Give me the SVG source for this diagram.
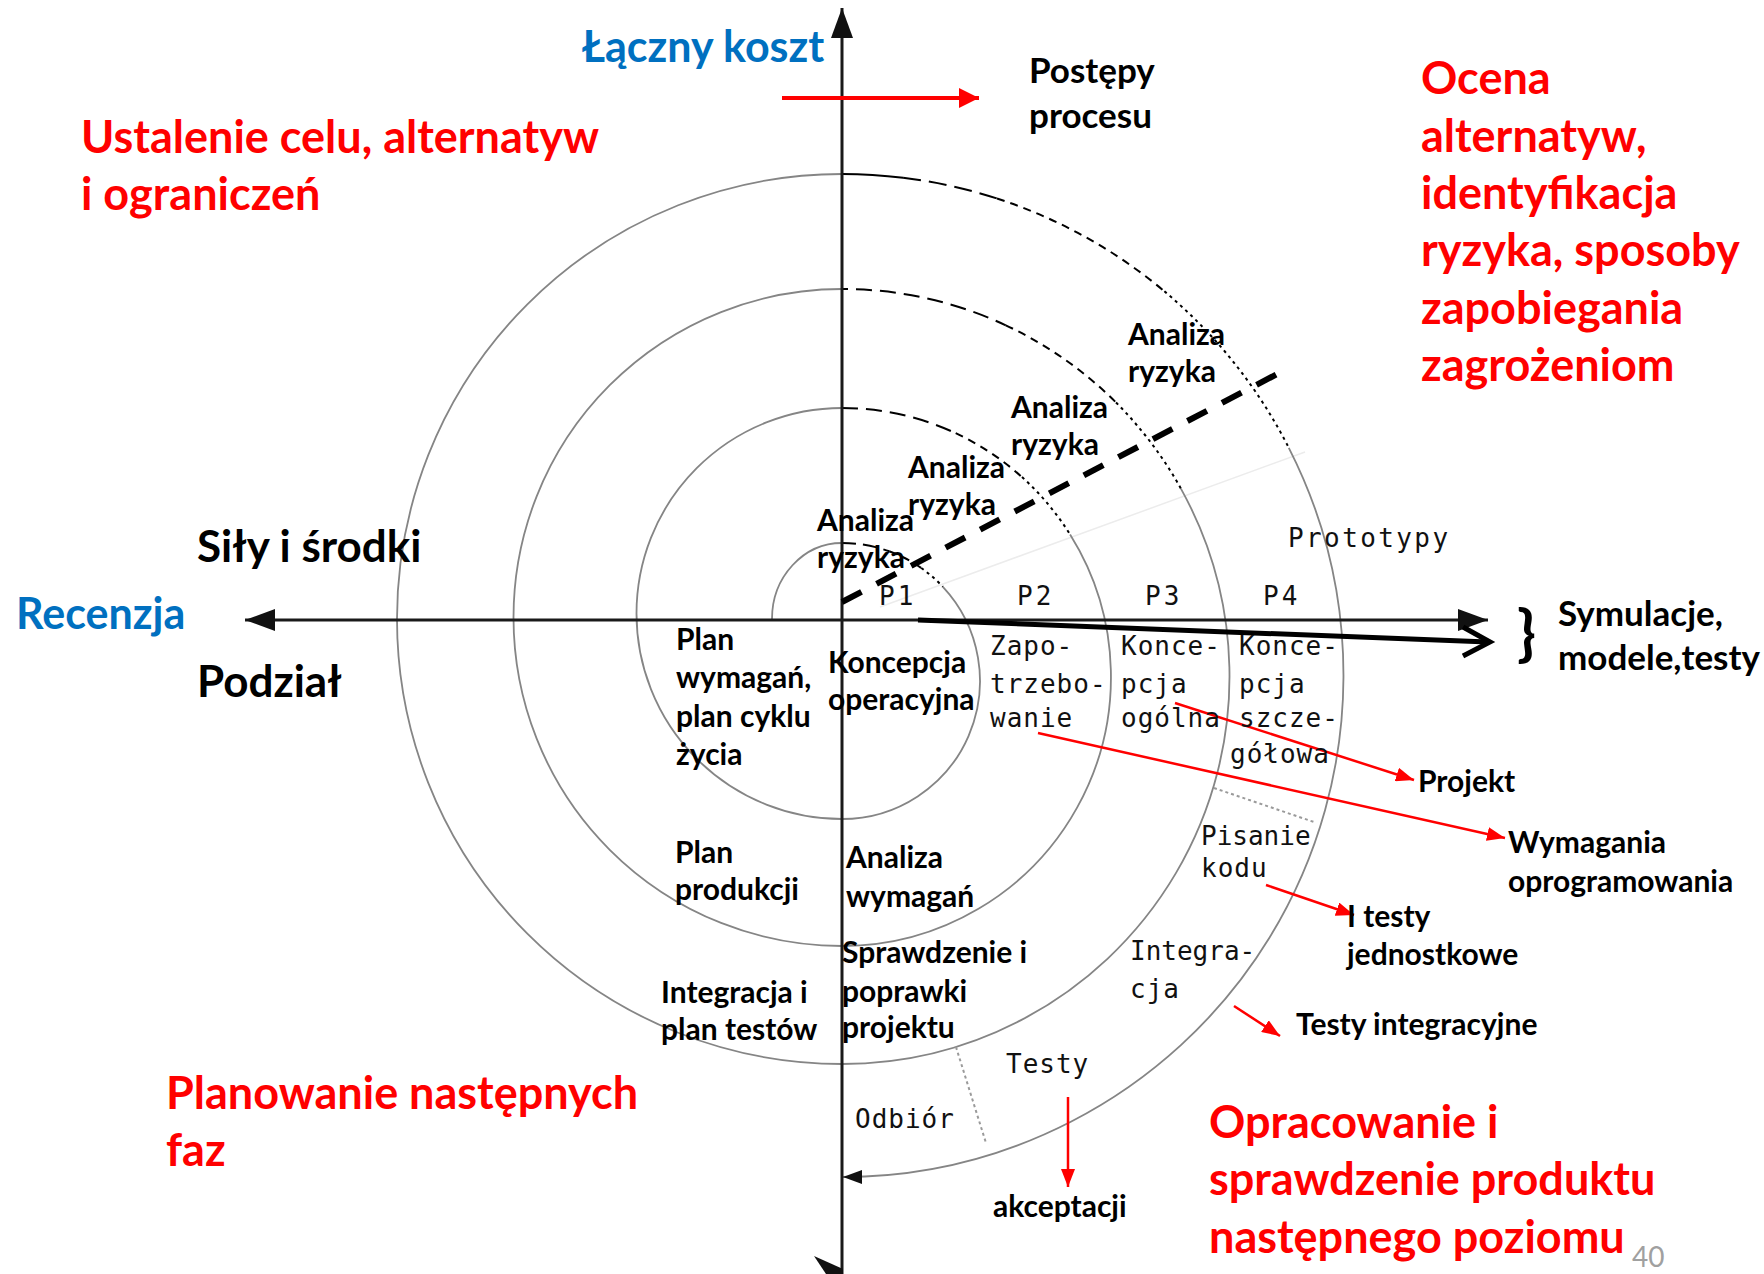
<svg xmlns="http://www.w3.org/2000/svg" width="1764" height="1274" viewBox="0 0 1764 1274">
  <style>
    .b { font-family: Lato, "Open Sans", "DejaVu Sans", sans-serif; font-weight: 700; fill: #000; }
    .m { font-size: 30px; }
    .l { font-size: 35px; }
    .xl { font-size: 44px; }
    .red { fill: #ff0000; font-size: 45px; }
    .blue { fill: #0070c0; font-size: 43px; }
    .mono { font-family: "DejaVu Sans Mono", "Liberation Mono", monospace; font-size: 26px; letter-spacing: 1px; fill: #111; }
    .gray { fill: none; stroke: #858585; stroke-width: 1.8; }
    .blk { fill: none; stroke: #000; stroke-width: 2; }
    .d1 { stroke-dasharray: 16 8; }
    .d2 { stroke-dasharray: 8 6; }
    .dt { stroke-dasharray: 3 4; }
    .axis { fill: none; stroke: #1a1a1a; stroke-width: 3; }
    .rarrow { fill: none; stroke: #ff0000; stroke-width: 2.5; }
    .sep { fill: none; stroke: #9a9a9a; stroke-width: 2; stroke-dasharray: 3 3; }
  </style>
  <defs>
    <marker id="axisHead" markerUnits="userSpaceOnUse" markerWidth="30" markerHeight="22" refX="30" refY="11" orient="auto-start-reverse">
      <path d="M0,0 L30,11 L0,22 z" fill="#111"/>
    </marker>
    <marker id="redHead" markerUnits="userSpaceOnUse" markerWidth="18" markerHeight="14" refX="18" refY="7" orient="auto">
      <path d="M0,0 L18,7 L0,14 z" fill="#ff0000"/>
    </marker>
    <marker id="redBig" markerUnits="userSpaceOnUse" markerWidth="20" markerHeight="20" refX="20" refY="10" orient="auto">
      <path d="M0,0 L20,10 L0,20 z" fill="#ff0000"/>
    </marker>
  </defs>

  <rect width="1764" height="1274" fill="#fff"/>

  <!-- spiral: semicircle arcs around the axes -->
  <g id="spiral">
    <path d="M880 607 L1305 452" fill="none" stroke="#ececec" stroke-width="1.5"/>
    <!-- left halves (planning / objectives quadrants) -->
    <path class="gray" d="M772 619 A70 76 0 0 1 842 543"/>
    <path class="gray" d="M842 819 A205.5 205.5 0 0 1 842 408"/>
    <path class="gray" d="M842 946 A328.5 328.5 0 0 1 842 289"/>
    <path class="gray" d="M842 1064 A445 445 0 0 1 842 174"/>
    <!-- loop 1 right half -->
    <path class="blk" d="M842 543 A138 138 0 0 1 889.2 551.3" style="stroke-dasharray:14 7"/>
    <path class="blk d2" d="M889.2 551.3 A138 138 0 0 1 921.2 568"/>
    <path class="blk dt" d="M921.2 568 A138 138 0 0 1 942.9 586.9"/>
    <path class="gray" d="M942.9 586.9 A138 138 0 0 1 842 819"/>
    <!-- loop 2 right half -->
    <path class="blk d1" d="M842 408 A269 269 0 0 1 955.7 433.2"/>
    <path class="blk d2" d="M955.7 433.2 A269 269 0 0 1 1022 477.1"/>
    <path class="blk dt" d="M1022 477.1 A269 269 0 0 1 1070.1 534.5"/>
    <path class="gray" d="M1070.1 534.5 A269 269 0 0 1 842 946"/>
    <!-- loop 3 right half -->
    <path class="blk d1" d="M842 289 A387.5 387.5 0 0 1 1005.8 325.3" style="stroke-dashoffset:-14"/>
    <path class="blk d2" d="M1005.8 325.3 A387.5 387.5 0 0 1 1116 402.5"/>
    <path class="blk dt" d="M1116 402.5 A387.5 387.5 0 0 1 1180.9 488.6"/>
    <path class="gray" d="M1180.9 488.6 A387.5 387.5 0 0 1 842 1064"/>
    <!-- loop 4 right half -->
    <path class="blk" d="M842 174 A501.5 501.5 0 0 1 903.1 177.8"/>
    <path class="blk" d="M903.1 177.8 A501.5 501.5 0 0 1 997 198.5" style="stroke-dasharray:18 8"/>
    <path class="blk d2" d="M997 198.5 A501.5 501.5 0 0 1 1164.4 291.3"/>
    <path class="blk dt" d="M1164.4 291.3 A501.5 501.5 0 0 1 1288.8 447.8"/>
    <path class="gray" d="M1288.8 447.8 A501.5 501.5 0 0 1 842 1177"/>
    <polygon points="843,1177 862,1170 862,1184" fill="#111"/>
    <!-- phase separators -->
    <path class="sep" d="M1214 788 L1314 822"/>
    <path class="sep" d="M956 1047 L986 1143"/>
  </g>

  <g id="connectors">
    <!-- axes -->
    <path class="axis" d="M245 620 L1488 620" marker-start="url(#axisHead)" marker-end="url(#axisHead)"/>
    <path class="axis" d="M842 1274 L842 8" marker-end="url(#axisHead)"/>
    <polygon points="814,1256 843,1269 843,1274 826,1274" fill="#111"/>
    <!-- risk analysis boundary -->
    <path d="M842 602 L1281 372" fill="none" stroke="#000" stroke-width="6" stroke-dasharray="22 17"/>
    <!-- prototype progression -->
    <path d="M918 620 L1488 642" fill="none" stroke="#000" stroke-width="5"/>
    <path d="M1463 627 L1490 642 L1463 656" fill="none" stroke="#000" stroke-width="5"/>
    <!-- red pointers -->
    <path class="rarrow" d="M782 98 L979 98" style="stroke-width:4" marker-end="url(#redBig)"/>
    <path class="rarrow" d="M1038 733 L1505 838" marker-end="url(#redHead)"/>
    <path class="rarrow" d="M1175 703 L1414 780" marker-end="url(#redHead)"/>
    <path class="rarrow" d="M1266 885 L1354 915" marker-end="url(#redHead)"/>
    <path class="rarrow" d="M1234 1006 L1280 1036" marker-end="url(#redHead)"/>
    <path class="rarrow" d="M1068 1097 L1068 1187" marker-end="url(#redHead)"/>
  </g>

  <!-- quadrant headings -->
  <g id="q-objectives">
    <text class="b red" x="81" y="153">Ustalenie celu, alternatyw</text>
    <text class="b red" x="81" y="210">i ograniczeń</text>
  </g>
  <g id="q-risk">
    <text class="b red" x="1421" y="94">Ocena</text>
    <text class="b red" x="1421" y="151.5">alternatyw,</text>
    <text class="b red" x="1421" y="209">identyfikacja</text>
    <text class="b red" x="1421" y="266">ryzyka, sposoby</text>
    <text class="b red" x="1421" y="323.5">zapobiegania</text>
    <text class="b red" x="1421" y="381">zagrożeniom</text>
  </g>
  <g id="q-planning">
    <text class="b red" x="166" y="1109">Planowanie następnych</text>
    <text class="b red" x="166" y="1166">faz</text>
  </g>
  <g id="q-development">
    <text class="b red" x="1209" y="1138">Opracowanie i</text>
    <text class="b red" x="1209" y="1195">sprawdzenie produktu</text>
    <text class="b red" x="1209" y="1253">następnego poziomu</text>
  </g>

  <!-- axis labels -->
  <g id="axis-cost"><text class="b blue" x="582" y="62">Łączny koszt</text></g>
  <g id="axis-review"><text class="b blue" x="16" y="629">Recenzja</text></g>
  <g id="label-resources"><text class="b xl" x="197" y="562">Siły i środki</text></g>
  <g id="label-partition"><text class="b xl" x="197" y="697">Podział</text></g>
  <g id="label-progress">
    <text class="b l" x="1029" y="83">Postępy</text>
    <text class="b l" x="1029" y="128">procesu</text>
  </g>
  <g id="label-simulations">
    <text class="b" x="1517" y="655" style="font-size:62px">}</text>
    <text class="b l" x="1558" y="626">Symulacje,</text>
    <text class="b l" x="1558" y="670">modele,testy</text>
  </g>

  <!-- risk analysis labels -->
  <g id="risk-4"><text class="b m" x="1128" y="345">Analiza</text><text class="b m" x="1128" y="382">ryzyka</text></g>
  <g id="risk-3"><text class="b m" x="1011" y="418">Analiza</text><text class="b m" x="1011" y="455">ryzyka</text></g>
  <g id="risk-2"><text class="b m" x="908" y="478">Analiza</text><text class="b m" x="908" y="515">ryzyka</text></g>
  <g id="risk-1"><text class="b m" x="817" y="531">Analiza</text><text class="b m" x="817" y="568">ryzyka</text></g>

  <!-- prototypes -->
  <g id="prototypes">
    <text class="mono" x="1288" y="547" style="letter-spacing:2.4px">Prototypy</text>
    <text class="mono" x="879" y="605" style="letter-spacing:3px">P1</text>
    <text class="mono" x="1017" y="605" style="letter-spacing:3px">P2</text>
    <text class="mono" x="1145" y="605" style="letter-spacing:3px">P3</text>
    <text class="mono" x="1263" y="605" style="letter-spacing:3px">P4</text>
  </g>

  <!-- planning quadrant labels -->
  <g id="plan-requirements">
    <text class="b m" x="676" y="650">Plan</text>
    <text class="b m" x="676" y="688">wymagań,</text>
    <text class="b m" x="676" y="727">plan cyklu</text>
    <text class="b m" x="676" y="765">życia</text>
  </g>
  <g id="plan-production">
    <text class="b m" x="675" y="863">Plan</text>
    <text class="b m" x="675" y="900">produkcji</text>
  </g>
  <g id="plan-integration">
    <text class="b m" x="661" y="1003">Integracja i</text>
    <text class="b m" x="661" y="1040">plan testów</text>
  </g>

  <!-- development quadrant labels -->
  <g id="concept-operation">
    <text class="b m" x="828" y="673">Koncepcja</text>
    <text class="b m" x="828" y="710">operacyjna</text>
  </g>
  <g id="requirements-analysis">
    <text class="b m" x="846" y="868">Analiza</text>
    <text class="b m" x="846" y="907">wymagań</text>
  </g>
  <g id="design-review">
    <text class="b m" x="842" y="963">Sprawdzenie i</text>
    <text class="b m" x="842" y="1002">poprawki</text>
    <text class="b m" x="842" y="1038">projektu</text>
  </g>
  <g id="phase-requirements">
    <text class="mono" x="990" y="655">Zapo-</text>
    <text class="mono" x="990" y="693">trzebo-</text>
    <text class="mono" x="990" y="727">wanie</text>
  </g>
  <g id="phase-general-design">
    <text class="mono" x="1121" y="655">Konce-</text>
    <text class="mono" x="1121" y="693">pcja</text>
    <text class="mono" x="1121" y="727">ogólna</text>
  </g>
  <g id="phase-detailed-design">
    <text class="mono" x="1239" y="655">Konce-</text>
    <text class="mono" x="1239" y="693">pcja</text>
    <text class="mono" x="1239" y="727">szcze-</text>
    <text class="mono" x="1230" y="763">gółowa</text>
  </g>
  <g id="phase-coding">
    <text class="mono" x="1201" y="845" style="letter-spacing:0">Pisanie</text>
    <text class="mono" x="1201" y="877">kodu</text>
  </g>
  <g id="phase-integration">
    <text class="mono" x="1130" y="960" style="letter-spacing:0">Integra-</text>
    <text class="mono" x="1130" y="998">cja</text>
  </g>
  <g id="phase-tests"><text class="mono" x="1006" y="1073">Testy</text></g>
  <g id="phase-acceptance"><text class="mono" x="855" y="1128">Odbiór</text></g>

  <!-- products -->
  <g id="out-design"><text class="b m" x="1418" y="792">Projekt</text></g>
  <g id="out-requirements">
    <text class="b m" x="1508" y="853">Wymagania</text>
    <text class="b m" x="1508" y="892">oprogramowania</text>
  </g>
  <g id="out-unit-tests">
    <text class="b m" x="1347" y="927">I testy</text>
    <text class="b m" x="1347" y="965">jednostkowe</text>
  </g>
  <g id="out-integration-tests"><text class="b m" x="1296" y="1035">Testy integracyjne</text></g>
  <g id="out-acceptance"><text class="b m" x="993" y="1217">akceptacji</text></g>

  <!-- slide number -->
  <text x="1632" y="1267" style="font-family:Lato,sans-serif;font-size:28px;fill:#a0a0a0">40</text>
</svg>
